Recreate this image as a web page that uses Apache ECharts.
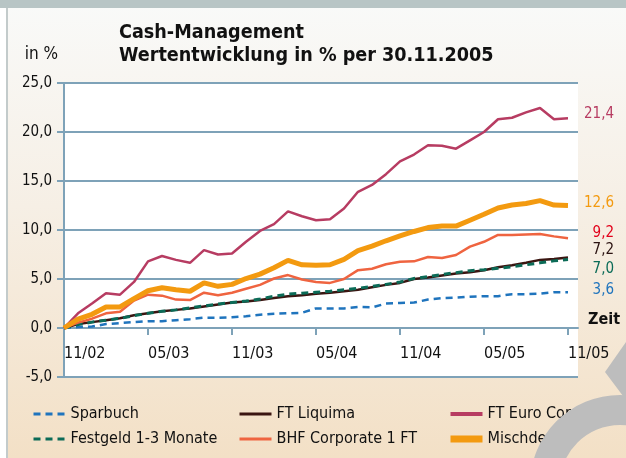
<!DOCTYPE html>
<html>
<head>
<meta charset="utf-8">
<title>Cash-Management</title>
<script src="https://cdn.jsdelivr.net/npm/echarts@6/dist/echarts.min.js"></script>
<style>
  body { margin: 0; }
  #main {
    position: absolute; left: 0; top: 0; width: 626px; height: 458px;
    background:
      linear-gradient(#b8c5c5, #b8c5c5) 0 0 / 100% 8px no-repeat,
      linear-gradient(#fff, #fff) 0 0 / 6px 100% no-repeat,
      linear-gradient(#c3cbcb, #c3cbcb) 6px 0 / 2px 100% no-repeat,
      linear-gradient(to bottom, #f9faf9 0%, #f6efe5 45%, #f3e0c6 100%);
  }
</style>
</head>
<body>
<div id="main"></div>
<script>
// Monate (x-Achse)
const categories = ['11/02', '12/02', '01/03', '02/03', '03/03', '04/03', '05/03', '06/03', '07/03', '08/03',
  '09/03', '10/03', '11/03', '12/03', '01/04', '02/04', '03/04', '04/04', '05/04', '06/04', '07/04', '08/04',
  '09/04', '10/04', '11/04', '12/04', '01/05', '02/05', '03/05', '04/05', '05/05', '06/05', '07/05', '08/05',
  '09/05', '10/05', '11/05']
const tickMonths = [0, 6, 12, 18, 24, 30, 36]

// Wertentwicklung in %
const sparbuch = [0, 0.1, 0.15, 0.4, 0.5, 0.6, 0.7, 0.7, 0.8, 0.9, 1.05, 1.05, 1.1, 1.2, 1.35, 1.45, 1.5, 1.55,
  2.0, 2.0, 2.0, 2.15, 2.1, 2.5, 2.55, 2.6, 2.9, 3.05, 3.1, 3.2, 3.25, 3.25, 3.45, 3.45, 3.5, 3.65, 3.65]
const festgeld = [0, 0.35, 0.6, 0.8, 1.0, 1.25, 1.5, 1.7, 1.85, 2.05, 2.25, 2.45, 2.6, 2.75, 2.95, 3.25, 3.45, 3.55,
  3.65, 3.75, 3.9, 4.05, 4.25, 4.45, 4.7, 5.05, 5.25, 5.45, 5.65, 5.85, 5.95, 6.1, 6.25, 6.45, 6.65, 6.85, 7.0]
const liquima = [0, 0.4, 0.6, 0.8, 1.0, 1.3, 1.5, 1.7, 1.85, 2.0, 2.2, 2.4, 2.6, 2.7, 2.85, 3.05, 3.25, 3.35,
  3.5, 3.6, 3.75, 3.9, 4.15, 4.4, 4.6, 5.0, 5.15, 5.35, 5.55, 5.7, 5.9, 6.2, 6.4, 6.65, 6.95, 7.05, 7.2]
const euroCorporate = [0, 1.5, 2.5, 3.55, 3.4, 4.7, 6.8, 7.35, 6.95, 6.65, 7.95, 7.5, 7.6, 8.8, 9.9, 10.6, 11.9, 11.4,
  11.0, 11.1, 12.2, 13.9, 14.6, 15.7, 17.0, 17.7, 18.65, 18.6, 18.3, 19.15, 20.0, 21.3, 21.45, 22.0, 22.45, 21.3, 21.4]
const bhfCorporate = [0, 0.55, 0.95, 1.5, 1.65, 2.8, 3.4, 3.3, 2.9, 2.85, 3.6, 3.35, 3.6, 4.0, 4.4, 5.05, 5.4, 4.95,
  4.7, 4.6, 5.0, 5.9, 6.05, 6.5, 6.75, 6.8, 7.25, 7.15, 7.45, 8.3, 8.8, 9.5, 9.5, 9.55, 9.6, 9.35, 9.15]
const mischdepot = [0, 0.9, 1.4, 2.15, 2.15, 3.0, 3.8, 4.1, 3.9, 3.75, 4.6, 4.25, 4.45, 5.05, 5.5, 6.15, 6.9, 6.45,
  6.4, 6.45, 7.0, 7.9, 8.35, 8.9, 9.4, 9.85, 10.25, 10.4, 10.4, 11.0, 11.6, 12.25, 12.55, 12.7, 13.0, 12.55, 12.5]

// Endwerte rechts neben den Linien
const endValues = ['3,6', '7,0', '7,2', '21,4', '9,2', '12,6']

const FONT = "'DejaVu Sans Condensed', 'Liberation Sans', sans-serif"
const GRID = '#7ea2b8'

const toPairs = (values) => values.map((v, i) => [i, v])

function makeSeries (name, values, color, width, dashed, endLabel, dy, labelColor) {
  return {
    name,
    type: 'line',
    data: toPairs(values),
    symbol: 'none',
    lineStyle: { color, width, type: dashed ? [7, 5] : 'solid' },
    itemStyle: { color },
    endLabel: {
      show: true,
      formatter: endLabel,
      color: labelColor || color,
      fontFamily: FONT,
      fontSize: 15,
      distance: 46,
      align: 'right',
      offset: [0, dy],
    },
  }
}

const chart = echarts.init(document.getElementById('main'))

chart.setOption({
  animation: false,
  textStyle: { fontFamily: FONT },
  title: {
    text: 'Cash-Management\nWertentwicklung in % per 30.11.2005',
    left: 114,
    top: 16,
    textStyle: { fontFamily: FONT, fontSize: 19.6, fontWeight: 'bold', color: '#111', lineHeight: 23 },
  },
  grid: {
    left: 64, right: 48, top: 83, bottom: 81,
    show: true, backgroundColor: '#fff', borderWidth: 0,
  },
  xAxis: {
    type: 'value',
    min: 0,
    max: 36.714,
    name: 'Zeit',
    nameLocation: 'end',
    nameGap: 10,
    nameTextStyle: { fontFamily: FONT, fontSize: 16, fontWeight: 'bold', color: '#111', verticalAlign: 'bottom', lineHeight: 16 },
    axisLine: { onZero: true, lineStyle: { color: GRID, width: 2 } },
    axisTick: { show: true, length: 7, customValues: tickMonths, lineStyle: { color: GRID, width: 2 } },
    axisLabel: {
      customValues: tickMonths,
      formatter: (v) => categories[v],
      align: 'left',
      margin: -31,
      fontSize: 16,
      color: '#111',
    },
    splitLine: { show: false },
  },
  yAxis: {
    type: 'value',
    min: -5,
    max: 25,
    interval: 5,
    name: 'in %',
    nameLocation: 'end',
    nameGap: 20,
    nameTextStyle: { fontFamily: FONT, fontSize: 17, color: '#111', align: 'right', padding: [0, 6, 0, 0] },
    axisLine: { show: true, lineStyle: { color: GRID, width: 2 } },
    axisTick: { show: true, length: 7, lineStyle: { color: GRID, width: 2 } },
    axisLabel: {
      formatter: (v) => v.toFixed(1).replace('.', ','),
      margin: 12,
      fontSize: 15,
      color: '#111',
    },
    splitLine: { lineStyle: { color: GRID, width: 2 } },
  },
  legend: [
    { data: [{ name: 'Sparbuch', lineStyle: { width: 3 } }, { name: 'Festgeld 1-3 Monate', lineStyle: { width: 3 } }], left: 32 },
    { data: [{ name: 'FT Liquima', lineStyle: { width: 3 } }, { name: 'BHF Corporate 1 FT', lineStyle: { width: 3 } }], left: 238 },
    { data: [{ name: 'FT Euro Corporate', lineStyle: { width: 4 } }, { name: 'Mischdepot', lineStyle: { width: 7 } }], left: 447 },
  ].map((l) => Object.assign({
    orient: 'vertical',
    top: 406,
    padding: 0,
    itemWidth: 32,
    itemHeight: 14,
    itemGap: 9,
    itemStyle: { opacity: 0 },
    textStyle: { fontFamily: FONT, fontSize: 16, color: '#111' },
  }, l)),
  series: [
    makeSeries('Sparbuch', sparbuch, '#1f74bd', 2.5, true, endValues[0], -2),
    makeSeries('FT Liquima', liquima, '#3a1511', 2.5, false, endValues[2], -7, '#2a1210'),
    makeSeries('Festgeld 1-3 Monate', festgeld, '#0b6b57', 3, true, endValues[1], 10),
    makeSeries('FT Euro Corporate', euroCorporate, '#b73c62', 2.5, false, endValues[3], -4),
    makeSeries('BHF Corporate 1 FT', bhfCorporate, '#ef6440', 2.5, false, endValues[4], -5, '#e2001a'),
    makeSeries('Mischdepot', mischdepot, '#f39a10', 5, false, endValues[5], -2),
  ],
  // grauer Wasserzeichen-Bogen unten rechts
  graphic: [
    { type: 'polygon', z: 100, silent: true, shape: { points: [[605, 372], [626, 342], [626, 400]] }, style: { fill: '#bdbdbd' } },
    { type: 'sector', z: 100, silent: true, shape: { cx: 620, cy: 485, r: 90, r0: 60, startAngle: Math.PI, endAngle: Math.PI * 1.75 }, style: { fill: '#bdbdbd' } },
  ],
})
</script>
</body>
</html>
